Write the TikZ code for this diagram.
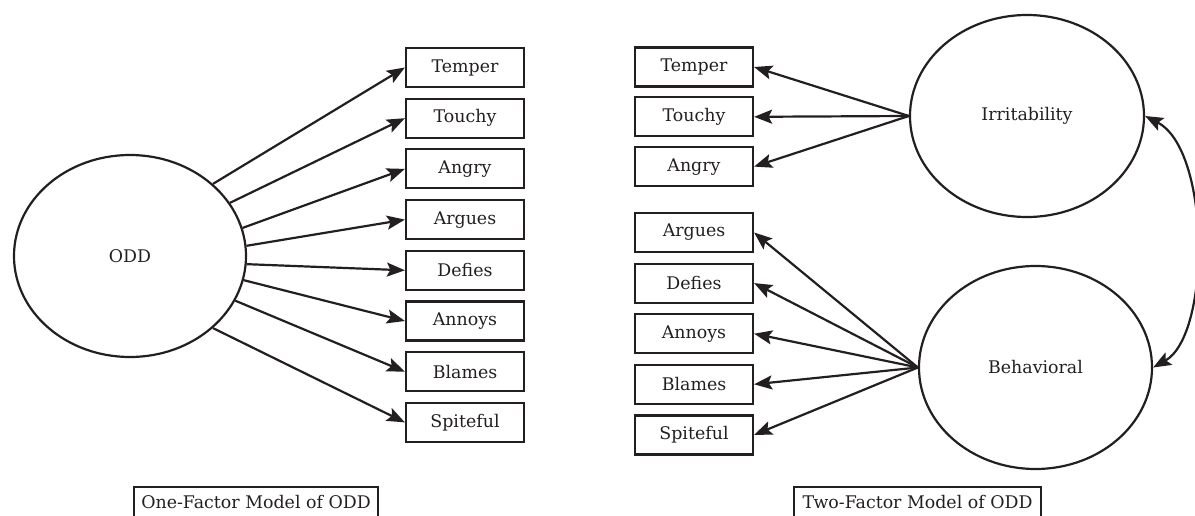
\documentclass[tikz,border=0pt]{standalone}
\usepackage{fontspec}
\setmainfont{DejaVu Serif}
\usetikzlibrary{arrows.meta,shapes.geometric}
\definecolor{ink}{HTML}{231F20}
\begin{document}
\begin{tikzpicture}[x=1pt,y=-1pt,
  every node/.style={text=ink,font=\fontsize{17.4}{21}\selectfont},
  item/.style={draw=ink,line width=2.2pt,minimum width=118pt,minimum height=39pt,inner sep=0pt},
  factor/.style={draw=ink,line width=2.2pt,ellipse,inner sep=0pt},
  caption/.style={draw=ink,line width=2.2pt,anchor=north,inner xsep=6pt,inner ysep=8pt,text height=13pt,text depth=10pt},
  load/.style={draw=ink,line width=2.2pt,-{Stealth[length=18pt,width=14pt,inset=3.5pt]}},
  cov/.style={draw=ink,line width=2.2pt,{Stealth[length=18pt,width=14pt,inset=3.5pt]}-{Stealth[length=18pt,width=14pt,inset=3.5pt]}}]
\clip (0,0) rectangle (1195,516);

% one-factor model: loadings leave the ellipse at spread-out border angles
\node[factor,minimum width=232pt,minimum height=202pt] (odd) at (130,256) {ODD};
\foreach \name/\lab/\ang [count=\i from 0] in {a1/Temper/41.7,a2/Touchy/28.1,a3/Angry/14.4,a4/Argues/5.9,a5/Defies/-4.9,a6/Annoys/-12.3,a7/Blames/-23.9,a8/Spiteful/-41.3}{
  \node[item] (\name) at (465,67.5+50.7*\i) {\lab};
  \draw[load] (odd.\ang) -- (\name.west);
}
\node[caption,minimum width=244pt] (cap1) at (256,486) {One-Factor Model of ODD};

% two-factor model
\node[factor,minimum width=234pt,minimum height=202pt] (irr) at (1027,116) {Irritability};
\node[factor,minimum width=233pt,minimum height=203pt] (beh) at (1035.5,367.5) {Behavioral};
\foreach \name/\lab [count=\i from 0] in {i1/Temper,i2/Touchy,i3/Angry}{
  \node[item] (\name) at (694,67+49.8*\i) {\lab};
  \draw[load] (irr.west) -- (\name.east);
}
\foreach \name/\lab [count=\i from 0] in {b1/Argues,b2/Defies,b3/Annoys,b4/Blames,b5/Spiteful}{
  \node[item] (\name) at (694,232.5+50.6*\i) {\lab};
  \draw[load] (beh.west) -- (\name.east);
}
% factor covariance
\draw[cov] (irr.east) .. controls (1211,150) and (1211,335) .. (beh.east);
\node[caption,minimum width=247pt] (cap2) at (917.5,486) {Two-Factor Model of ODD};
\end{tikzpicture}
\end{document}
